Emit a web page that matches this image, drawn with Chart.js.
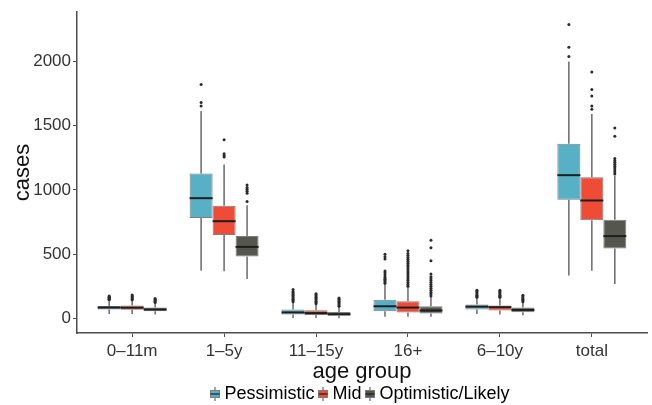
<!DOCTYPE html>
<html>
<head>
<meta charset="utf-8">
<script src="https://cdn.jsdelivr.net/npm/chart.js@4"></script>
<style>
  html, body { margin: 0; padding: 0; background: #fff; }
  #wrap { width: 652px; height: 405px; }
</style>
</head>
<body>
<div id="wrap"><canvas id="boxChart" width="652" height="405"></canvas></div>
<script>
// 카테고리 / 시리즈
const categories = ['0–11m', '1–5y', '11–15y', '16+', '6–10y', 'total'];
const seriesNames = ['Pessimistic', 'Mid', 'Optimistic/Likely'];
const yTicks = [0, 500, 1000, 1500, 2000];

// Pessimistic
const pessQ1 = [70, 782, 31, 57, 69, 923];
const pessMedian = [85, 936, 47, 95, 92, 1115];
const pessQ3 = [97, 1128, 69, 146, 108, 1359];
const pessLow = [35, 372, 3, 13, 34, 334];
const pessHigh = [140, 1615, 125, 269, 160, 2000];
const pessOutliers = [
    [145, 150, 155, 160, 165, 170, 175],
    [1654, 1680, 1821],
    [130, 140, 150, 160, 170, 180, 190, 200, 210, 225],
    [275, 285, 295, 305, 315, 325, 340, 355, 370, 462, 480, 500],
    [165, 172, 180, 190, 200, 210, 220],
    [2038, 2110, 2288]
];

// Mid
const midQ1 = [68, 649, 28, 46, 62, 765];
const midMedian = [84, 757, 42, 85, 88, 918];
const midQ3 = [100, 877, 64, 134, 100, 1098];
const midLow = [35, 367, 3, 13, 30, 372];
const midHigh = [140, 1198, 110, 244, 160, 1590];
const midOutliers = [
    [145, 152, 160, 168, 175, 183],
    [1257, 1269, 1282, 1390],
    [115, 125, 135, 145, 155, 165, 175, 185, 192],
    [250, 265, 280, 295, 310, 325, 340, 355, 370, 385, 400, 415, 430, 445, 460, 475, 490, 505, 526],
    [165, 172, 180, 190, 200, 210, 220],
    [1628, 1654, 1731, 1782, 1918]
];

// Optimistic/Likely
const optQ1 = [57, 482, 21, 38, 49, 544];
const optMedian = [70, 557, 33, 62, 67, 641];
const optQ3 = [85, 641, 51, 95, 85, 769];
const optLow = [30, 308, 2, 13, 25, 269];
const optHigh = [120, 880, 90, 167, 125, 1110];
const optOutliers = [
    [125, 132, 140, 148, 155],
    [911, 975, 990, 1005, 1020, 1038],
    [95, 105, 115, 125, 135, 145, 152, 159],
    [175, 190, 205, 220, 235, 250, 265, 280, 295, 310, 325, 346, 449, 551, 608],
    [130, 140, 150, 160, 170, 180],
    [1125, 1140, 1155, 1170, 1185, 1200, 1215, 1230, 1245, 1418, 1482]
];

const fillColors = ['#58b0c7', '#ef4c38', '#55574e'];
const boxBorder = '#7d7d7d';
const whiskerColor = '#6a6a6a';
const medianColor = '#1e1e1e';
const outlierColor = '#2a2a2a';

const stats = [
    { q1: pessQ1, med: pessMedian, q3: pessQ3, lo: pessLow, hi: pessHigh, out: pessOutliers },
    { q1: midQ1, med: midMedian, q3: midQ3, lo: midLow, hi: midHigh, out: midOutliers },
    { q1: optQ1, med: optMedian, q3: optQ3, lo: optLow, hi: optHigh, out: optOutliers }
];

// 범례용 작은 박스플롯 아이콘
function makeGlyph(color) {
    let c = document.createElement('canvas');
    c.width = 10;
    c.height = 14;
    let g = c.getContext('2d');
    g.strokeStyle = whiskerColor;
    g.lineWidth = 1.2;
    g.beginPath();
    g.moveTo(5, 0);
    g.lineTo(5, 14);
    g.stroke();
    g.fillStyle = color;
    g.fillRect(0.5, 3.5, 9, 7);
    g.strokeStyle = boxBorder;
    g.lineWidth = 1;
    g.strokeRect(0.5, 3.5, 9, 7);
    g.strokeStyle = medianColor;
    g.lineWidth = 1.2;
    g.beginPath();
    g.moveTo(0.5, 7);
    g.lineTo(9.5, 7);
    g.stroke();
    return c;
}
const glyphs = fillColors.map(makeGlyph);

// 수염, 이상치, 중앙값 그리기
const boxPlotPlugin = {
    id: 'boxPlotExtras',
    beforeDatasetsDraw(chart) {
        let ctx = chart.ctx;
        let y = chart.scales.y;
        ctx.save();
        stats.forEach(function(s, di) {
            let meta = chart.getDatasetMeta(di);
            meta.data.forEach(function(bar, i) {
                let cx = bar.x;
                ctx.strokeStyle = whiskerColor;
                ctx.lineWidth = 1.5;
                ctx.beginPath();
                ctx.moveTo(cx, y.getPixelForValue(s.hi[i]));
                ctx.lineTo(cx, y.getPixelForValue(s.q3[i]));
                ctx.moveTo(cx, y.getPixelForValue(s.q1[i]));
                ctx.lineTo(cx, y.getPixelForValue(s.lo[i]));
                ctx.stroke();
                ctx.fillStyle = outlierColor;
                s.out[i].forEach(function(v) {
                    ctx.beginPath();
                    ctx.arc(cx, y.getPixelForValue(v), 1.5, 0, Math.PI * 2);
                    ctx.fill();
                });
            });
        });
        ctx.restore();
    },
    afterDatasetsDraw(chart) {
        let ctx = chart.ctx;
        let y = chart.scales.y;
        ctx.save();
        ctx.strokeStyle = medianColor;
        ctx.lineWidth = 2;
        stats.forEach(function(s, di) {
            let meta = chart.getDatasetMeta(di);
            meta.data.forEach(function(bar, i) {
                let py = y.getPixelForValue(s.med[i]);
                ctx.beginPath();
                ctx.moveTo(bar.x - bar.width / 2, py);
                ctx.lineTo(bar.x + bar.width / 2, py);
                ctx.stroke();
            });
        });
        ctx.restore();
    }
};

let datasets = stats.map(function(s, di) {
    return {
        label: seriesNames[di],
        data: categories.map(function(c, i) { return { x: i + 1, y: [s.q1[i], s.q3[i]] }; }),
        backgroundColor: fillColors[di],
        borderColor: boxBorder,
        borderWidth: 1,
        borderSkipped: false,
        categoryPercentage: 0.75,
        barPercentage: 1.0
    };
});

const axisColor = '#4d4d4d';
const tickTextColor = '#333333';

let ctx = document.getElementById('boxChart').getContext('2d');
let chart = new Chart(ctx, {
    type: 'bar',
    data: { datasets: datasets },
    plugins: [boxPlotPlugin],
    options: {
        responsive: false,
        animation: false,
        layout: { padding: { top: 10, right: 5, left: 0, bottom: -8 } },
        plugins: {
            tooltip: { enabled: false },
            legend: {
                position: 'bottom',
                fullSize: false,
                labels: {
                    usePointStyle: true,
                    pointStyleWidth: 1,
                    padding: 8,
                    color: '#222',
                    font: { family: 'Liberation Sans, Arial, sans-serif', size: 18 },
                    generateLabels: function() {
                        return seriesNames.map(function(n, i) {
                            return { text: n, pointStyle: glyphs[i], datasetIndex: i, fillStyle: fillColors[i], strokeStyle: boxBorder, lineWidth: 0, hidden: false };
                        });
                    }
                }
            }
        },
        scales: {
            x: {
                type: 'linear',
                min: 0.4,
                max: 6.6,
                offset: false,
                afterBuildTicks: function(scale) {
                    scale.ticks = categories.map(function(c, i) { return { value: i + 1 }; });
                },
                afterFit: function(scale) { scale.height = 44; },
                ticks: {
                    autoSkip: false,
                    maxRotation: 0,
                    padding: 4,
                    color: tickTextColor,
                    font: { family: 'Liberation Sans, Arial, sans-serif', size: 17 },
                    callback: function(v) { return categories[v - 1]; }
                },
                grid: { display: true, drawOnChartArea: false, drawTicks: true, tickLength: 4, color: axisColor, offset: false },
                border: { display: true, color: axisColor, width: 1.5 },
                title: {
                    display: true,
                    text: 'age group',
                    color: '#111',
                    padding: { top: 0, bottom: -8 },
                    font: { family: 'Liberation Sans, Arial, sans-serif', size: 22 }
                }
            },
            y: {
                min: -113,
                max: 2383,
                afterBuildTicks: function(scale) {
                    scale.ticks = yTicks.map(function(v) { return { value: v }; });
                },
                afterFit: function(scale) { scale.width = 77; },
                ticks: {
                    padding: 2,
                    color: tickTextColor,
                    font: { family: 'Liberation Sans, Arial, sans-serif', size: 17 },
                    callback: function(v) { return String(v); }
                },
                grid: { display: true, drawOnChartArea: false, drawTicks: true, tickLength: 4, color: axisColor },
                border: { display: true, color: axisColor, width: 1.5 },
                title: {
                    display: true,
                    text: 'cases',
                    color: '#111',
                    padding: { top: 10, bottom: 0 },
                    font: { family: 'Liberation Sans, Arial, sans-serif', size: 22 }
                }
            }
        }
    }
});
</script>
</body>
</html>
